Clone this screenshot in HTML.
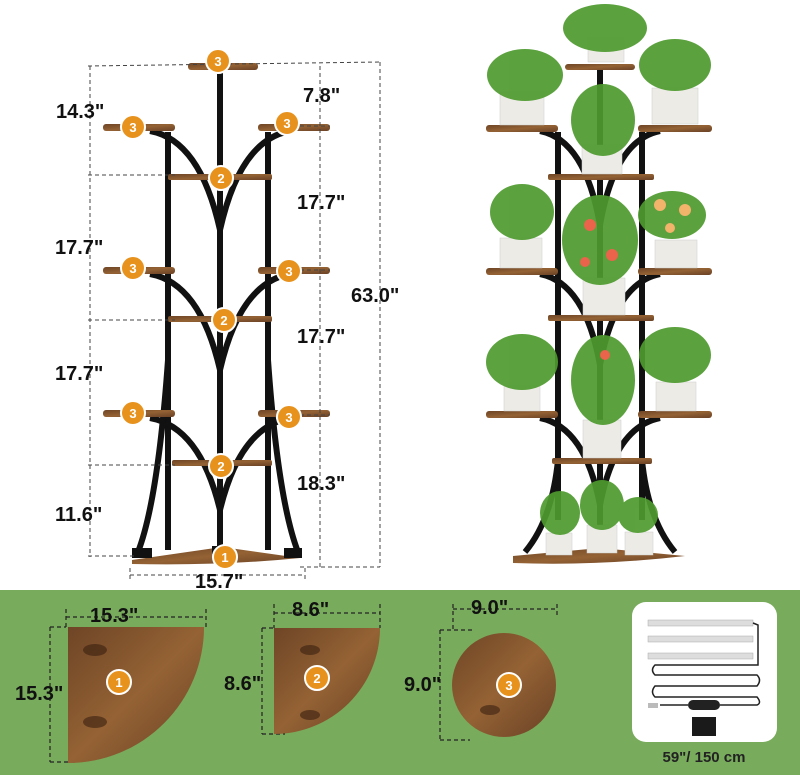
<!DOCTYPE html>
<html><head><meta charset="utf-8"><style>
html,body{margin:0;padding:0;background:#fff}
svg{display:block}
text{font-family:"Liberation Sans",sans-serif;font-weight:bold}
</style></head><body>
<svg width="800" height="775" viewBox="0 0 800 775" xmlns="http://www.w3.org/2000/svg">
<defs>
<linearGradient id="wood" x1="0" y1="0" x2="1" y2="1">
<stop offset="0" stop-color="#6e4526"/><stop offset="0.5" stop-color="#946234"/><stop offset="1" stop-color="#6a4226"/>
</linearGradient>
<g id="b"><circle r="12" fill="#e8921e" stroke="#fff" stroke-width="2"/></g>
</defs>
<rect width="800" height="590" fill="#fff"/>
<rect y="590" width="800" height="185" fill="#78ab5c"/>

<!-- LEFT STAND -->
<g stroke="#111" fill="none" stroke-width="6">
<line x1="220" y1="68" x2="220" y2="550"/>
<line x1="168" y1="132" x2="168" y2="550"/>
<line x1="268" y1="132" x2="268" y2="550"/>
<path d="M150 131 Q200 140 220 230 Q240 140 290 131"/>
<path d="M150 274 Q200 283 220 370 Q240 283 290 274"/>
<path d="M150 418 Q200 427 220 510 Q240 427 290 418"/>
<path d="M168 360 Q158 500 138 552"/>
<path d="M268 360 Q278 500 298 552"/>
</g>
<g fill="url(#wood)">
<rect x="188" y="63" width="70" height="7" rx="3"/>
<rect x="103" y="124" width="72" height="7" rx="3"/><rect x="258" y="124" width="72" height="7" rx="3"/>
<rect x="168" y="174" width="104" height="6" rx="2"/>
<rect x="103" y="267" width="72" height="7" rx="3"/><rect x="258" y="267" width="72" height="7" rx="3"/>
<rect x="168" y="316" width="104" height="6" rx="2"/>
<rect x="103" y="410" width="72" height="7" rx="3"/><rect x="258" y="410" width="72" height="7" rx="3"/>
<rect x="172" y="460" width="100" height="6" rx="2"/>
<path d="M132 560 L222 547 L300 558 Q220 566 132 564Z"/>
</g>
<rect x="132" y="548" width="20" height="10" fill="#111"/><rect x="284" y="548" width="18" height="10" fill="#111"/><rect x="212" y="546" width="16" height="8" fill="#111"/>
<!-- dims -->
<g stroke="#444" stroke-width="1" stroke-dasharray="4,3" fill="none">
<line x1="88" y1="66" x2="380" y2="62"/>
<line x1="90" y1="66" x2="90" y2="557"/>
<line x1="380" y1="62" x2="380" y2="567"/>
<line x1="320" y1="66" x2="320" y2="567"/>
<line x1="88" y1="175" x2="175" y2="175"/>
<line x1="88" y1="320" x2="175" y2="320"/>
<line x1="88" y1="465" x2="175" y2="465"/>
<line x1="88" y1="556" x2="135" y2="556"/>
<line x1="300" y1="126" x2="330" y2="126"/>
<line x1="300" y1="270" x2="330" y2="270"/>
<line x1="300" y1="415" x2="330" y2="415"/>
<line x1="300" y1="567" x2="380" y2="567"/>
<line x1="130" y1="568" x2="130" y2="580"/><line x1="305" y1="568" x2="305" y2="580"/>
<line x1="130" y1="575" x2="305" y2="575"/>
</g>
<g font-size="20" fill="#111">
<text x="56" y="118">14.3"</text>
<text x="303" y="102">7.8"</text>
<text x="297" y="209">17.7"</text>
<text x="55" y="254">17.7"</text>
<text x="351" y="302">63.0"</text>
<text x="297" y="343">17.7"</text>
<text x="55" y="380">17.7"</text>
<text x="297" y="490">18.3"</text>
<text x="55" y="521">11.6"</text>
<text x="195" y="588">15.7"</text>
</g>
<g font-size="13" fill="#fff" text-anchor="middle">
<use href="#b" x="218" y="61"/><text x="218" y="66">3</text>
<use href="#b" x="133" y="127"/><text x="133" y="132">3</text>
<use href="#b" x="287" y="123"/><text x="287" y="128">3</text>
<use href="#b" x="221" y="178"/><text x="221" y="183">2</text>
<use href="#b" x="133" y="268"/><text x="133" y="273">3</text>
<use href="#b" x="289" y="271"/><text x="289" y="276">3</text>
<use href="#b" x="224" y="320"/><text x="224" y="325">2</text>
<use href="#b" x="133" y="413"/><text x="133" y="418">3</text>
<use href="#b" x="289" y="417"/><text x="289" y="422">3</text>
<use href="#b" x="221" y="466"/><text x="221" y="471">2</text>
<use href="#b" x="225" y="557"/><text x="225" y="562">1</text>
</g>

<!-- RIGHT STAND -->
<g stroke="#111" fill="none" stroke-width="6">
<line x1="600" y1="70" x2="600" y2="545"/>
<line x1="558" y1="132" x2="558" y2="520"/>
<line x1="642" y1="132" x2="642" y2="520"/>
<path d="M540 131 Q585 140 600 225 Q615 140 660 131"/>
<path d="M540 274 Q585 283 600 365 Q615 283 660 274"/>
<path d="M540 418 Q585 427 600 505 Q615 427 660 418"/>
<path d="M558 460 Q552 520 525 552"/><path d="M642 460 Q648 520 675 552"/>
</g>
<g fill="url(#wood)">
<rect x="565" y="64" width="70" height="6" rx="3"/>
<rect x="486" y="125" width="72" height="7" rx="3"/><rect x="638" y="125" width="74" height="7" rx="3"/>
<rect x="548" y="174" width="106" height="6" rx="2"/>
<rect x="486" y="268" width="72" height="7" rx="3"/><rect x="638" y="268" width="74" height="7" rx="3"/>
<rect x="548" y="315" width="106" height="6" rx="2"/>
<rect x="486" y="411" width="72" height="7" rx="3"/><rect x="638" y="411" width="74" height="7" rx="3"/>
<rect x="552" y="458" width="100" height="6" rx="2"/>
<path d="M513 556 L600 548 L685 556 Q600 566 513 563Z"/>
</g>
<g fill="#ecebe6" stroke="#ccc" stroke-width="0.5">
<rect x="588" y="38" width="36" height="24"/><rect x="500" y="92" width="44" height="33"/><rect x="652" y="88" width="46" height="36"/>
<rect x="582" y="145" width="40" height="29"/><rect x="500" y="238" width="42" height="30"/><rect x="655" y="240" width="42" height="28"/>
<rect x="583" y="278" width="42" height="37"/><rect x="504" y="386" width="36" height="25"/><rect x="656" y="382" width="40" height="29"/>
<rect x="583" y="420" width="38" height="38"/><rect x="546" y="533" width="26" height="22"/><rect x="587" y="525" width="30" height="28"/><rect x="625" y="532" width="28" height="23"/>
</g>
<g fill="#4e9a2e" opacity="0.92">
<ellipse cx="605" cy="28" rx="42" ry="24"/><ellipse cx="525" cy="75" rx="38" ry="26"/><ellipse cx="675" cy="65" rx="36" ry="26"/>
<ellipse cx="603" cy="120" rx="32" ry="36"/><ellipse cx="522" cy="212" rx="32" ry="28"/><ellipse cx="672" cy="215" rx="34" ry="24"/>
<ellipse cx="600" cy="240" rx="38" ry="45"/><ellipse cx="522" cy="362" rx="36" ry="28"/><ellipse cx="675" cy="355" rx="36" ry="28"/>
<ellipse cx="603" cy="380" rx="32" ry="45"/><ellipse cx="560" cy="513" rx="20" ry="22"/><ellipse cx="602" cy="505" rx="22" ry="25"/><ellipse cx="638" cy="515" rx="20" ry="18"/>
</g>
<g fill="#e9644a"><circle cx="590" cy="225" r="6"/><circle cx="612" cy="255" r="6"/><circle cx="585" cy="262" r="5"/><circle cx="605" cy="355" r="5"/></g>
<g fill="#f2b36b"><circle cx="660" cy="205" r="6"/><circle cx="685" cy="210" r="6"/><circle cx="670" cy="228" r="5"/></g>

<!-- BOTTOM SHAPES -->
<g stroke="#222" stroke-width="1.2" stroke-dasharray="4,3" fill="none">
<line x1="66" y1="609" x2="66" y2="627"/><line x1="206" y1="609" x2="206" y2="627"/><line x1="66" y1="617" x2="206" y2="617"/>
<line x1="50" y1="627" x2="66" y2="627"/><line x1="50" y1="762" x2="75" y2="762"/><line x1="50" y1="627" x2="50" y2="762"/>
<line x1="274" y1="604" x2="274" y2="628"/><line x1="380" y1="604" x2="380" y2="628"/><line x1="274" y1="613" x2="380" y2="613"/>
<line x1="262" y1="628" x2="274" y2="628"/><line x1="262" y1="734" x2="285" y2="734"/><line x1="262" y1="628" x2="262" y2="734"/>
<line x1="453" y1="604" x2="453" y2="630"/><line x1="557" y1="604" x2="557" y2="618"/><line x1="453" y1="609" x2="557" y2="609"/>
<line x1="440" y1="630" x2="475" y2="630"/><line x1="440" y1="740" x2="470" y2="740"/><line x1="440" y1="630" x2="440" y2="740"/>
</g>
<path d="M68 627 L204 627 A136 136 0 0 1 68 763Z" fill="url(#wood)"/>
<path d="M274 628 L380 628 A106 106 0 0 1 274 734Z" fill="url(#wood)"/>
<circle cx="504" cy="685" r="52" fill="url(#wood)"/>
<g fill="#3a2010" opacity="0.6"><ellipse cx="95" cy="650" rx="12" ry="6"/><ellipse cx="95" cy="722" rx="12" ry="6"/><ellipse cx="310" cy="650" rx="10" ry="5"/><ellipse cx="310" cy="715" rx="10" ry="5"/><ellipse cx="490" cy="710" rx="10" ry="5"/></g>
<g font-size="20" fill="#111">
<text x="90" y="622">15.3"</text><text x="15" y="700">15.3"</text>
<text x="292" y="616">8.6"</text><text x="224" y="690">8.6"</text>
<text x="471" y="614">9.0"</text><text x="404" y="691">9.0"</text>
</g>
<g font-size="13" fill="#fff" text-anchor="middle">
<use href="#b" x="119" y="682"/><text x="119" y="687">1</text>
<use href="#b" x="317" y="678"/><text x="317" y="683">2</text>
<use href="#b" x="509" y="685"/><text x="509" y="690">3</text>
</g>
<rect x="632" y="602" width="145" height="140" rx="14" fill="#fff"/>
<g fill="#ddd" stroke="#aaa" stroke-width="0.5">
<rect x="648" y="620" width="105" height="6"/><rect x="648" y="636" width="105" height="6"/><rect x="648" y="653" width="105" height="6"/>
</g>
<path d="M753 623 L758 625 L758 665 L655 665 Q650 670 655 675 L757 675 Q762 680 757 686 L655 686 Q650 692 655 697 L757 697 Q762 703 757 705 L720 705 M688 705 L660 705" stroke="#222" stroke-width="1.5" fill="none"/>
<rect x="688" y="700" width="32" height="10" rx="5" fill="#222"/>
<rect x="648" y="703" width="10" height="5" fill="#bbb"/>
<rect x="692" y="717" width="24" height="19" fill="#1a1a1a"/>
<text x="704" y="762" font-size="15" fill="#222" text-anchor="middle" font-weight="normal">59"/ 150 cm</text>
</svg>
</body></html>
